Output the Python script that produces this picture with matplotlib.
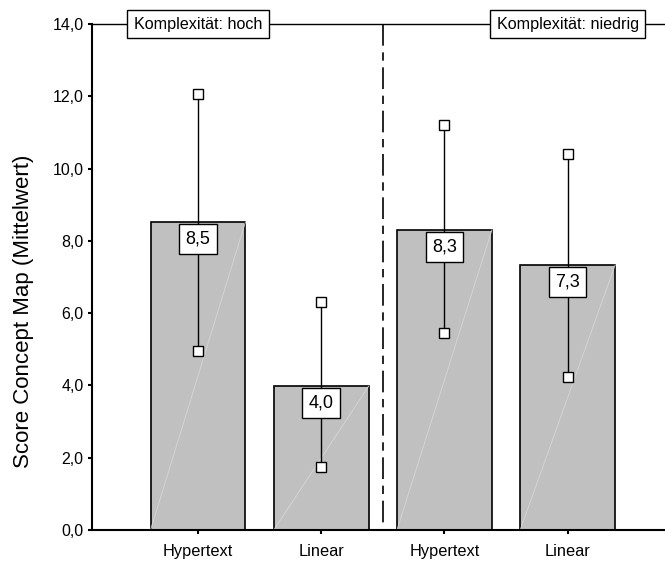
import matplotlib
matplotlib.use("Agg")
import matplotlib.pyplot as plt

plt.rcParams['font.family'] = ['Liberation Sans', 'DejaVu Sans']

categories = ["Hypertext", "Linear", "Hypertext", "Linear"]
means = [8.52, 3.98, 8.30, 7.33]
err_upper = [12.06, 6.31, 11.20, 10.40]
err_lower = [4.95, 1.74, 5.45, 4.23]
value_labels = ["8,5", "4,0", "8,3", "7,3"]
panel_labels = ["Komplexität: hoch", "Komplexität: niedrig"]
yticks = [0, 2, 4, 6, 8, 10, 12, 14]
ytick_labels = ["0,0", "2,0", "4,0", "6,0", "8,0", "10,0", "12,0", "14,0"]

fig = plt.figure(figsize=(6.65, 5.63), dpi=100)
ax = fig.add_axes([92/665, 33/563, 1 - 92/665, (530-24)/563])

x = [0, 1, 2, 3]
width = 0.77
ax.bar(x, means, width=width, color="#c0c0c0", edgecolor="black", linewidth=1.2, zorder=2)
for xi, m in zip(x, means):
    ax.plot([xi - width/2, xi + width/2], [0, m], color="#d6d6d6", lw=0.6, zorder=2.5)

for xi, lo, hi in zip(x, err_lower, err_upper):
    ax.plot([xi, xi], [lo, hi], color="black", lw=1.0, zorder=3)
    ax.plot([xi, xi], [lo, hi], ls="none", marker="s", ms=7, mfc="white", mec="black", mew=1.0, zorder=4)

for xi, m, lab in zip(x, means, value_labels):
    ax.text(xi, m - 0.47, lab, ha="center", va="center", fontsize=13, zorder=5,
            bbox=dict(boxstyle="square,pad=0.35", fc="white", ec="black", lw=1.0))

ax.set_xlim(-0.86, 3.79)
ax.set_ylim(0, 14)

# top line and divider
ax.axhline(14, color="black", lw=1.0, zorder=1, clip_on=False)
ax.plot([1.5, 1.5], [14, 0], color="black", lw=1.2, dashes=(13, 4, 5, 4), zorder=1)

for xi, lab in zip([0, 3], panel_labels):
    ax.text(xi, 14, lab, ha="center", va="center", fontsize=11.6, zorder=6,
            bbox=dict(boxstyle="square,pad=0.42", fc="white", ec="black", lw=1.0))

for s in ["top", "right"]:
    ax.spines[s].set_visible(False)
ax.spines["left"].set_linewidth(1.5)
ax.spines["bottom"].set_linewidth(1.5)

ax.set_yticks(yticks)
ax.set_yticklabels(ytick_labels, fontsize=11.5)
ax.set_xticks(x)
ax.set_xticklabels(categories, fontsize=11.8)
ax.tick_params(axis="both", direction="out", length=3, width=1.5)
ax.tick_params(axis="y", pad=3)
ax.tick_params(axis="x", pad=7)
fig.text(24/665, 1 - 311/563, "Score Concept Map (Mittelwert)", rotation=90,
         ha="center", va="center", fontsize=16)

fig.savefig("out.png", dpi=100)
